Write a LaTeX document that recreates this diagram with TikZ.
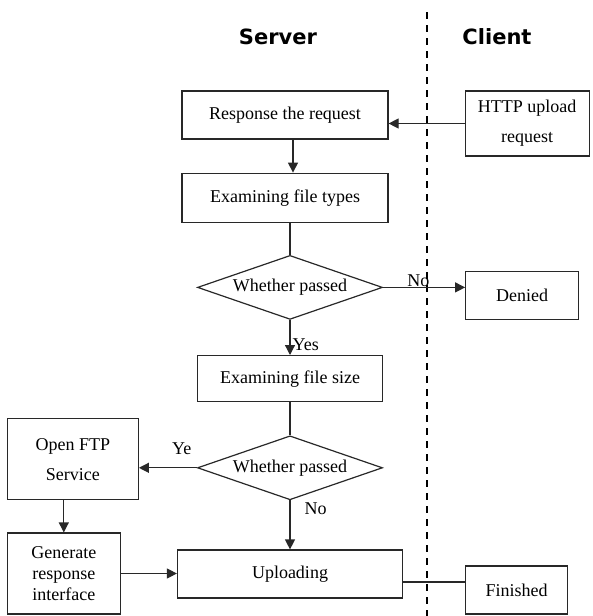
\documentclass[tikz,border=0pt]{standalone}
\usepackage{fontspec}
\setmainfont{Liberation Serif}
\newfontfamily\headfont{DejaVu Sans}
\usepackage{tikz}
\usetikzlibrary{shapes.geometric, arrows.meta, positioning}
\definecolor{inkgray}{RGB}{40,40,40}

\begin{document}
\begin{tikzpicture}[
    x=1pt, y=1pt,
    node distance=32pt,
    box/.style={rectangle, draw=inkgray, line width=1.2pt, align=center, font=\fontsize{18}{30}\selectfont, inner sep=2pt},
    decision/.style={diamond, draw=inkgray, line width=1.2pt, aspect=2.9, minimum width=185pt, minimum height=64pt, inner sep=0pt, font=\fontsize{18}{22}\selectfont},
    arrow/.style={-{Triangle[length=10pt,width=10pt]}, line width=1.2pt, draw=inkgray},
    link/.style={line width=1.2pt, draw=inkgray},
    tag/.style={font=\fontsize{18}{22}\selectfont, inner sep=0pt},
    heading/.style={font=\headfont\bfseries\fontsize{21}{24}\selectfont},
    divider/.style={line width=2.2pt, dash pattern=on 7pt off 6pt}
]
\useasboundingbox (0,0) rectangle (592,-616);

% Titles and the dividing line
\node[heading] (servertitle) at (278,-37) {Server};
\node[heading] (clienttitle) at (497,-37) {Client};
\coordinate (divtop) at (427,-12);
\coordinate (divbot) at (427,-616);
\draw[divider] (divtop) -- (divbot);

% Server column
\node[box, minimum width=206pt, minimum height=48pt] (respond) at (285,-115) {Response the request};
\node[box, minimum width=206pt, minimum height=49pt, below=33pt of respond] (typecheck) {Examining file types};
\node[decision, below=32pt of typecheck, xshift=5pt] (typepass) {Whether passed};
\node[box, minimum width=185pt, minimum height=46pt, below=35pt of typepass] (sizecheck) {Examining file size};
\node[decision, below=33pt of sizecheck] (sizepass) {Whether passed};
\node[box, minimum width=225pt, minimum height=48pt, below=49pt of sizepass] (uploading) {Uploading};

% FTP branch
\node[box, minimum width=131pt, minimum height=81pt, left=58pt of sizepass, yshift=8.5pt] (openftp) {Open FTP\\Service};
\node[box, minimum width=113pt, minimum height=81pt, below=32pt of openftp, xshift=-9pt, font=\fontsize{18}{21}\selectfont] (genresp) {Generate\\response\\interface};

% Client column
\node[box, minimum width=124pt, minimum height=65pt, right=76pt of respond, yshift=-8.5pt] (httpreq) {HTTP upload\\request};
\node[box, minimum width=113pt, minimum height=48pt, right=82pt of typepass, yshift=-8pt] (denied) {Denied};
\node[box, minimum width=102pt, minimum height=48pt, right=62pt of uploading, yshift=-16pt] (finished) {Finished};

% Connectors
\draw[arrow] (httpreq.west) -- (httpreq.west -| respond.east);
\draw[arrow] ([xshift=8pt]respond.south) -- ([xshift=8pt]typecheck.north);
\draw[link] (typepass.north |- typecheck.south) -- (typepass.north);
\draw[arrow] (typepass.east) -- node[tag, above, pos=0.43] {No} (typepass.east -| denied.west);
\draw[arrow] (typepass.south) -- node[tag, right=2pt, pos=0.7] {Yes} (sizecheck.north);
\draw[link] (sizecheck.south) -- (sizepass.north);
\draw[arrow] (sizepass.west) -- node[tag, above=13pt, pos=0.26] {Ye} (sizepass.west -| openftp.east);
\draw[arrow] (sizepass.south) -- node[tag, right=14pt, pos=0.17] {No} (uploading.north);
\draw[arrow] (genresp.north |- openftp.south) -- (genresp.north);
\draw[arrow] (genresp.east) -- (genresp.east -| uploading.west);
\draw[link] ([yshift=-8pt]uploading.east) -- ([yshift=8pt]finished.west);

\end{tikzpicture}
\end{document}
